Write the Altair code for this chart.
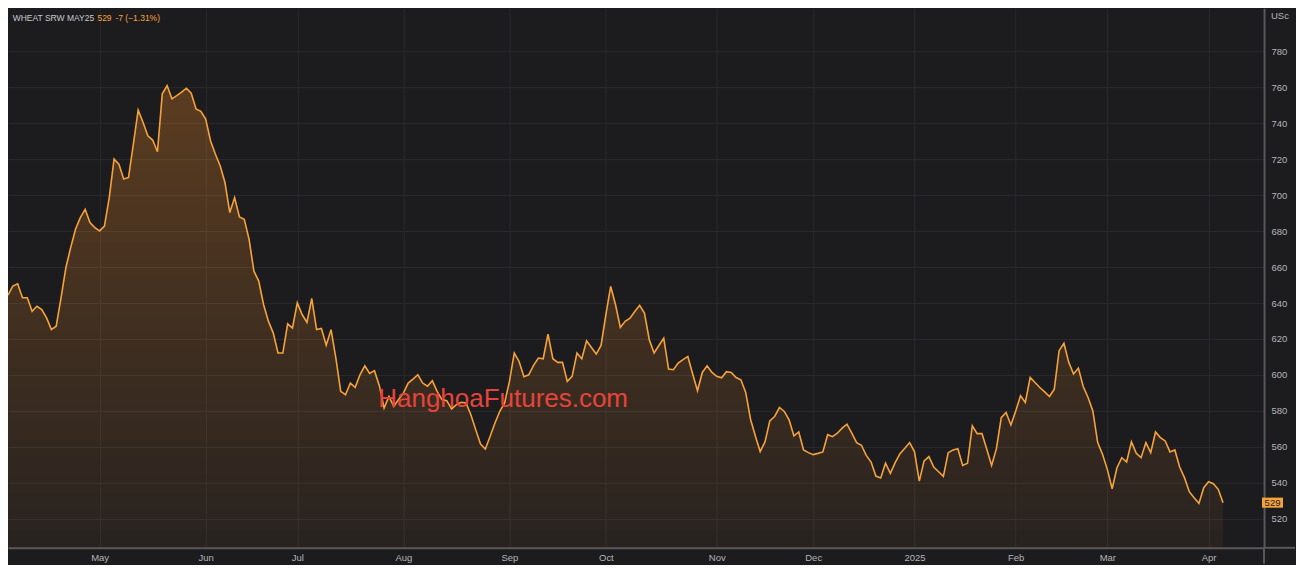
import altair as alt
import pandas as pd
import numpy as np

# Daily settlement prices (US cents / bushel), one per trading day, Apr 2024 - Apr 2025
prices_apr_jul = [
    644.4, 649.4, 650.7, 642.9, 642.9, 635.4, 638.2, 636.4, 631.7, 625.2,
    627.1, 642.9, 659.6, 670.8, 681.0, 687.5, 692.1, 684.7, 681.9, 680.1,
    682.8, 698.6, 720.0, 717.2, 708.9, 709.8, 728.4, 747.3, 740.5, 733.0,
    730.6, 724.1, 756.3, 760.9, 753.5, 755.3, 757.2, 759.4, 756.6, 747.9,
    746.6, 742.3, 730.2, 722.8, 716.3, 707.0, 690.3, 698.6, 687.9, 686.6,
    675.4, 657.7, 652.2, 639.2, 629.9, 623.4, 612.2, 612.2, 628.4, 626.1,
    640.1, 633.6, 629.3, 642.5, 625.2, 625.8, 616.5, 625.2,
]
prices_jul_oct = [
    609.4, 590.9, 589.0, 595.5, 593.1, 600.1, 605.1, 600.9, 602.4, 594.2,
    581.6, 588.1, 582.5, 586.3, 589.9, 595.5, 597.7, 600.1, 595.5, 593.7,
    596.8, 590.9, 586.3, 585.7, 581.1, 583.5, 584.8, 584.4, 577.9, 569.6,
    561.6, 558.8, 565.9, 573.3, 579.8, 584.4, 596.4, 612.2, 607.5, 599.0,
    600.1, 605.3, 609.4, 609.0, 622.7, 609.0, 607.0, 607.0, 596.4, 599.2,
    612.2, 609.0, 619.0, 615.3, 611.6, 616.4, 633.5, 649.2, 639.0, 626.4,
    629.8, 631.6, 635.3, 638.7, 634.4, 619.6, 612.2, 616.4, 620.5,
]
prices_oct_apr = [
    603.3, 602.9, 606.6, 608.5, 610.3, 600.5, 591.2, 601.4, 605.1, 601.4,
    599.2, 598.4, 601.8, 601.4, 598.6, 597.3, 590.3, 575.4, 566.1, 557.4,
    562.8, 574.5, 576.9, 581.9, 579.7, 575.0, 566.1, 568.3, 558.3, 556.8,
    555.7, 556.4, 557.2, 566.8, 565.7, 567.6, 570.4, 572.6, 567.6, 562.4,
    560.9, 555.3, 551.6, 543.8, 542.7, 550.9, 545.3, 551.2, 556.2, 559.2,
    562.4, 557.4, 541.0, 552.2, 554.6, 548.8, 546.2, 543.6, 556.8, 558.3,
    559.0, 549.7, 550.9, 571.7, 567.4, 567.4, 558.7, 549.7, 559.0, 576.3,
    579.1, 572.2, 580.0, 588.4, 584.7, 598.6, 595.8, 593.0, 590.6, 588.0,
    592.1, 613.5, 617.6, 607.0, 600.5, 603.8, 593.6, 587.5, 580.0, 562.4,
    555.9, 547.5, 536.7, 548.4, 554.0, 551.6, 562.8, 556.4, 554.0, 562.4,
    556.8, 568.3, 565.2, 563.3, 557.2, 558.3, 548.8, 542.9, 535.1, 531.7,
    528.6, 537.3, 540.6, 539.5, 536.4, 528.9,
]
prices = prices_apr_jul + prices_jul_oct + prices_oct_apr

# Axis ticks: trading-day index of the first session of each month
month_ticks = [19, 41, 60, 82, 104, 124, 147, 167, 188, 209, 228, 249]
month_labels = ["May", "Jun", "Jul", "Aug", "Sep", "Oct", "Nov", "Dec", "2025", "Feb", "Mar", "Apr"]
price_ticks = [520, 540, 560, 580, 600, 620, 640, 660, 680, 700, 720, 740, 760, 780]

title_parts = ["WHEAT SRW MAY25", "529", "-7 (\u22121.31%)"]
last_price = [529]
unit_label = ["USc"]
watermark = ["HanghoaFutures.com"]

BG = "#1c1c1f"
ORANGE = "#f6a23c"
GRID = "#2a2a2e"
LABEL = "#b4b4b8"
FONT = "Liberation Sans, Arial"

W, H = 1257, 540
X_DOM = [0, 260.5]
Y_DOM = [503.9, 803.9]

df = pd.DataFrame({"i": list(range(len(prices))), "price": prices})

# vertical fill gradient built from thin translucent bands (styling only)
shade_levels = np.arange(Y_DOM[0], 770, 10.0)
shade = df.merge(pd.DataFrame({"lvl": shade_levels}), how="cross")
shade["lo"] = np.minimum(shade["price"], shade["lvl"])

xs = alt.Scale(domain=X_DOM, nice=False, zero=False)
ys = alt.Scale(domain=Y_DOM, nice=False, zero=False)

label_expr = (
    "[" + ",".join(f"'{l}'" for l in month_labels) + "]"
    + "[indexof([" + ",".join(str(t) for t in month_ticks) + "], datum.value)]"
)

x_axis = alt.Axis(
    values=month_ticks, labelExpr=label_expr, ticks=False, labelPadding=5,
    labelColor=LABEL, labelFontSize=9.5, labelFont=FONT, domainColor="#58585c",
    domainWidth=2, grid=True, gridColor=GRID, gridWidth=1, title=None,
)
y_axis = alt.Axis(
    orient="right", values=price_ticks, ticks=False, labelPadding=7,
    labelColor=LABEL, labelFontSize=9.5, labelFont=FONT, domainColor="#58585c",
    domainWidth=2, grid=True, gridColor=GRID, gridWidth=1, title=None,
)

base = alt.Chart(df)

# base translucent fill + stacked bands -> brighter near the top
area = base.mark_area(clip=True, color=ORANGE, fillOpacity=0.05).encode(
    x=alt.X("i:Q", scale=xs, axis=x_axis),
    y=alt.Y("price:Q", scale=ys, axis=y_axis, stack=None),
    y2=alt.value(H),
)
bands = alt.Chart(shade).mark_area(clip=True, color=ORANGE, fillOpacity=0.011).encode(
    x=alt.X("i:Q", scale=xs),
    y=alt.Y("price:Q", scale=ys, stack=None),
    y2="lo:Q",
    detail="lvl:N",
)

line = base.mark_line(color=ORANGE, strokeWidth=1.6, clip=True).encode(
    x=alt.X("i:Q", scale=xs),
    y=alt.Y("price:Q", scale=ys),
)

# extensions of the axis lines into the corner (as in the reference frame)
corner_v = alt.Chart(pd.DataFrame({"k": [0]})).mark_rule(color="#58585c", strokeWidth=2).encode(
    x=alt.value(W), y=alt.value(H), y2=alt.value(H + 16)
)
corner_h = alt.Chart(pd.DataFrame({"k": [0]})).mark_rule(color="#58585c", strokeWidth=2).encode(
    x=alt.value(W), x2=alt.value(W + 31), y=alt.value(H)
)

price_df = pd.DataFrame({"p": last_price})
price_box = alt.Chart(price_df).transform_calculate(
    lo="datum.p - 2.8", hi="datum.p + 2.8"
).mark_rect(color=ORANGE).encode(
    x=alt.value(W - 2), x2=alt.value(W + 19),
    y=alt.Y("lo:Q", scale=ys), y2="hi:Q",
)
price_txt = alt.Chart(price_df).transform_calculate(
    lbl="format(datum.p, 'd')"
).mark_text(color="#1c1c1f", fontSize=9.5, font=FONT, align="center", baseline="middle").encode(
    x=alt.value(W + 8.5), y=alt.Y("p:Q", scale=ys), text="lbl:N"
)

unit = alt.Chart(pd.DataFrame({"t": unit_label})).mark_text(
    color=LABEL, fontSize=9.5, font=FONT, align="left", baseline="middle"
).encode(x=alt.value(W + 7), y=alt.value(8), text="t:N")

title_df = pd.DataFrame({
    "t": title_parts,
    "px": [4.7, 89.5, 107.5],
    "c": ["#c8c8cc", ORANGE, ORANGE],
})
title = alt.Chart(title_df).mark_text(
    fontSize=8.5, font=FONT, align="left", baseline="middle"
).encode(
    x=alt.X("px:Q", scale=None), y=alt.value(9.5), text="t:N",
    color=alt.Color("c:N", scale=None),
)

wm = alt.Chart(pd.DataFrame({"t": watermark})).mark_text(
    color="#e6443b", fontSize=26, font="Liberation Sans, Arial", align="center",
    baseline="alphabetic",
).encode(x=alt.value(495.5), y=alt.value(398.7), text="t:N")

chart = alt.layer(
    area, bands, line, corner_v, corner_h, price_box, price_txt, unit, title, wm
).properties(
    width=W, height=H, background=BG,
    padding={"left": 0, "top": 0, "right": 0, "bottom": 0},
).configure_view(stroke=None)

chart.save("out.html", embed_options={"renderer": "svg", "actions": False})
